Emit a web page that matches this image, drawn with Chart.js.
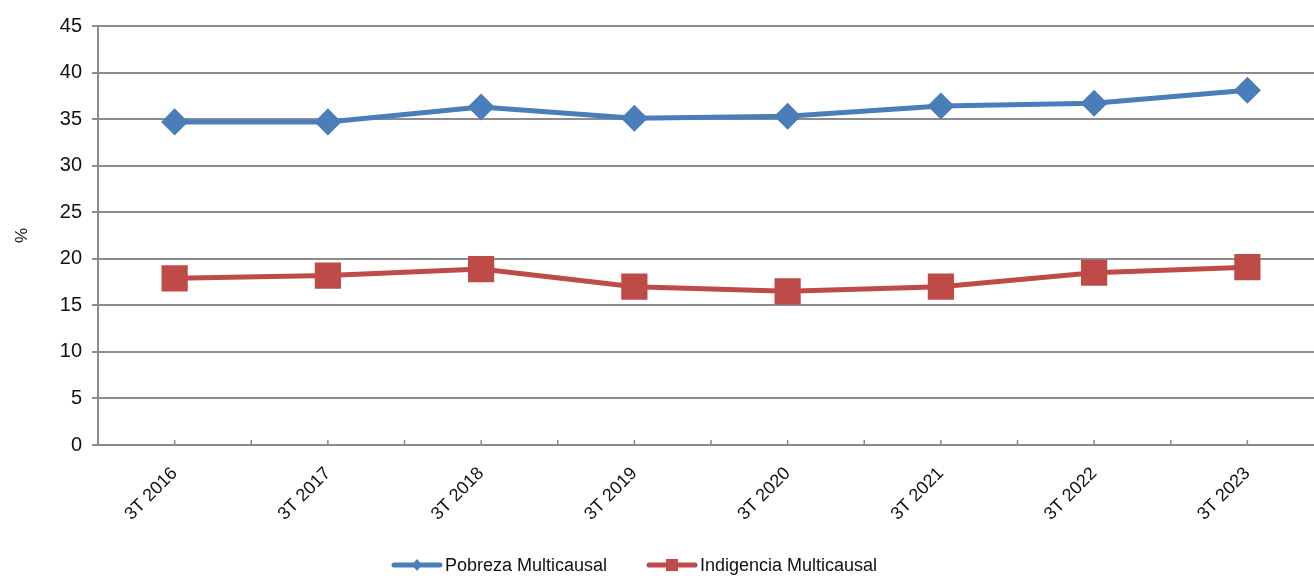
<!DOCTYPE html>
<html>
<head>
<meta charset="utf-8">
<script src="https://cdn.jsdelivr.net/npm/chart.js@4"></script>
<style>
  html, body { margin: 0; padding: 0; background: #fff; overflow: hidden; }
  #wrap { width: 1344px; height: 578px; }
</style>
</head>
<body>
<div id="wrap"><canvas id="grafica"></canvas></div>
<script>
const categorias = ['3T 2016', '3T 2017', '3T 2018', '3T 2019', '3T 2020', '3T 2021', '3T 2022', '3T 2023'];
const pobreza = [34.7, 34.7, 36.3, 35.1, 35.3, 36.4, 36.7, 38.1];
const indigencia = [17.9, 18.2, 18.9, 17.0, 16.5, 17.0, 18.5, 19.1];
const ticksY = [0, 5, 10, 15, 20, 25, 30, 35, 40, 45];

const azul = '#4a7ebb';
const rojo = '#be4b48';
const gris = '#8c8c8c';
const fuente = 'Liberation Sans';

// short tick marks on the category axis (centres and boundaries), pointing up
const marcasEjeX = {
  id: 'marcasEjeX',
  afterDraw(chart) {
    const x = chart.scales.x;
    const ctx = chart.ctx;
    const paso = x.getPixelForValue(1) - x.getPixelForValue(0);
    ctx.save();
    ctx.strokeStyle = gris;
    ctx.lineWidth = 1.5;
    ctx.beginPath();
    for (let i = 0; i < categorias.length; i++) {
      const c = x.getPixelForValue(i);
      [c, c + paso / 2].forEach(function (px) {
        ctx.moveTo(px, x.top);
        ctx.lineTo(px, x.top - 5);
      });
    }
    ctx.stroke();
    ctx.restore();
  }
};

// legend drawn by hand: line with the series marker, then the label
const leyenda = {
  id: 'leyenda',
  afterDraw(chart) {
    const ctx = chart.ctx;
    const y = 565;
    const inicios = [392, 647];
    ctx.save();
    ctx.font = '18px "' + fuente + '"';
    ctx.textBaseline = 'middle';
    chart.data.datasets.forEach(function (ds, i) {
      const x0 = inicios[i];
      ctx.strokeStyle = ds.borderColor;
      ctx.fillStyle = ds.borderColor;
      ctx.lineWidth = 5;
      ctx.lineCap = 'round';
      ctx.beginPath();
      ctx.moveTo(x0 + 2, y);
      ctx.lineTo(x0 + 48, y);
      ctx.stroke();
      const cx = x0 + 25;
      if (ds.pointStyle === 'rect') {
        ctx.fillRect(cx - 6, y - 6, 12, 12);
      } else {
        ctx.beginPath();
        ctx.moveTo(cx, y - 6);
        ctx.lineTo(cx + 5, y);
        ctx.lineTo(cx, y + 6);
        ctx.lineTo(cx - 5, y);
        ctx.closePath();
        ctx.fill();
      }
      ctx.fillStyle = '#111';
      ctx.fillText(ds.label, x0 + 53, y + 1);
    });
    ctx.restore();
  }
};

new Chart(document.getElementById('grafica').getContext('2d'), {
  type: 'line',
  data: {
    labels: categorias,
    datasets: [{
      label: 'Pobreza Multicausal',
      data: pobreza,
      borderColor: azul,
      backgroundColor: azul,
      borderWidth: 5,
      pointStyle: 'rectRot',
      pointRadius: 10,
      pointHoverRadius: 10,
      tension: 0
    }, {
      label: 'Indigencia Multicausal',
      data: indigencia,
      borderColor: rojo,
      backgroundColor: rojo,
      borderWidth: 5,
      pointStyle: 'rect',
      pointRadius: 15,
      pointHoverRadius: 15,
      tension: 0
    }]
  },
  options: {
    responsive: true,
    maintainAspectRatio: false,
    animation: false,
    layout: { padding: { top: 26, left: 0, right: 0, bottom: 0 } },
    plugins: {
      tooltip: { enabled: false },
      legend: { display: false }
    },
    scales: {
      x: {
        offset: true,
        grid: { display: false },
        border: { color: gris, width: 2 },
        afterFit(axis) { axis.height = 133; },
        ticks: {
          color: '#111',
          maxRotation: 45,
          minRotation: 45,
          padding: 10,
          font: { family: fuente, size: 18 }
        }
      },
      y: {
        min: 0,
        max: 45,
        afterBuildTicks(axis) { axis.ticks = ticksY.map(v => ({ value: v })); },
        afterFit(axis) { axis.width = 98; },
        grid: { color: gris, lineWidth: 2, tickLength: 6 },
        border: { color: gris, width: 2 },
        title: {
          display: true,
          text: '%',
          color: '#111',
          padding: { top: 12, bottom: 0 },
          font: { family: fuente, size: 17 }
        },
        ticks: {
          color: '#111',
          padding: 10,
          font: { family: fuente, size: 20 }
        }
      }
    }
  },
  plugins: [marcasEjeX, leyenda]
});
</script>
</body>
</html>
